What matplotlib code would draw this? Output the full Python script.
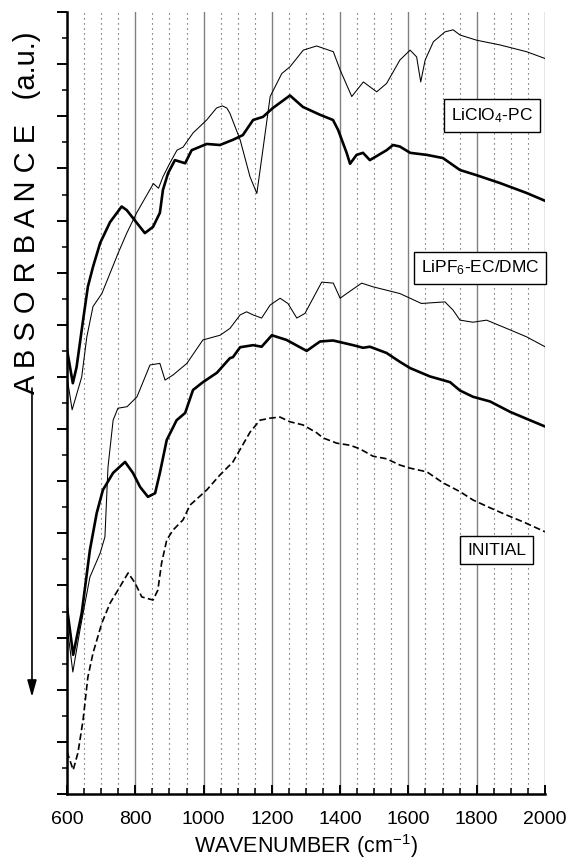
import matplotlib
matplotlib.use("Agg")
import matplotlib.pyplot as plt
from matplotlib.ticker import MultipleLocator, NullFormatter

plt.rcParams['font.family'] = ['Liberation Sans', 'DejaVu Sans']
plt.rcParams['mathtext.default'] = 'regular'

# LiClO4-PC, thin trace
clo4_thin_x = [600, 615, 643, 658, 676, 702, 726, 750, 775, 804, 853, 868, 881, 901, 922,
               940, 969, 1009, 1038, 1055, 1068, 1077, 1107, 1136, 1156, 1175, 1195, 1229,
               1253, 1292, 1331, 1380, 1400, 1434, 1468, 1507, 1536, 1575, 1605, 1624, 1636,
               1649, 1673, 1707, 1731, 1751, 1800, 1868, 1946, 2000]
clo4_thin_y = [8.00, 7.37, 8.00, 8.77, 9.35, 9.60, 9.99, 10.38, 10.76, 11.15, 11.71, 11.62,
               11.84, 12.10, 12.35, 12.41, 12.68, 12.93, 13.16, 13.20, 13.16, 13.06, 12.55,
               11.84, 11.52, 12.42, 13.38, 13.82, 13.95, 14.27, 14.35, 14.24, 13.89, 13.38,
               13.66, 13.47, 13.63, 14.08, 14.27, 14.14, 13.66, 14.08, 14.43, 14.62, 14.66,
               14.56, 14.46, 14.37, 14.24, 14.11]

# LiClO4-PC, thick trace
clo4_thick_x = [600, 617, 628, 647, 661, 676, 697, 726, 760, 775, 793, 828, 852, 872, 881,
                896, 916, 946, 965, 1009, 1048, 1086, 1115, 1145, 1174, 1203, 1253, 1291,
                1341, 1379, 1394, 1419, 1429, 1448, 1467, 1487, 1536, 1555, 1575, 1605, 1654,
                1701, 1751, 1800, 1868, 1946, 2000]
clo4_thick_y = [8.52, 7.88, 8.19, 9.09, 9.73, 10.11, 10.57, 10.97, 11.27, 11.20, 11.05,
                10.76, 10.88, 11.15, 11.59, 11.91, 12.16, 12.10, 12.35, 12.47, 12.45, 12.55,
                12.64, 12.93, 12.99, 13.16, 13.40, 13.18, 13.03, 12.93, 12.74, 12.30, 12.09,
                12.26, 12.30, 12.16, 12.35, 12.45, 12.42, 12.30, 12.26, 12.20, 11.97, 11.87,
                11.72, 11.53, 11.38]

# LiPF6-EC/DMC, thin trace
pf6_thin_x = [600, 617, 638, 667, 697, 711, 720, 735, 749, 776, 805, 843, 872, 887, 911,
              951, 998, 1048, 1077, 1107, 1126, 1145, 1170, 1195, 1224, 1247, 1273, 1297,
              1346, 1380, 1400, 1419, 1463, 1496, 1575, 1595, 1638, 1707, 1731, 1751, 1789,
              1829, 1888, 1946, 2000]
pf6_thin_y = [3.24, 2.34, 3.15, 4.16, 4.62, 4.93, 6.27, 7.17, 7.40, 7.43, 7.62, 8.23, 8.26,
              7.94, 8.04, 8.26, 8.71, 8.80, 8.93, 9.19, 9.25, 9.19, 9.13, 9.38, 9.51, 9.41,
              9.13, 9.22, 9.82, 9.80, 9.51, 9.60, 9.80, 9.73, 9.60, 9.54, 9.41, 9.44, 9.28,
              9.09, 9.05, 9.09, 8.93, 8.77, 8.58]

# LiPF6-EC/DMC, thick trace
pf6_thick_x = [600, 618, 643, 667, 687, 705, 735, 770, 793, 814, 837, 858, 872, 892, 921,
               946, 969, 998, 1039, 1077, 1086, 1107, 1145, 1170, 1200, 1243, 1302, 1341,
               1379, 1438, 1467, 1487, 1536, 1575, 1605, 1663, 1722, 1751, 1789, 1839, 1898,
               1956, 2000]
pf6_thick_y = [3.57, 2.67, 3.47, 4.68, 5.39, 5.83, 6.16, 6.37, 6.16, 5.89, 5.70, 5.77, 6.16,
               6.79, 7.17, 7.31, 7.75, 7.90, 8.08, 8.36, 8.38, 8.57, 8.61, 8.58, 8.80, 8.71,
               8.50, 8.68, 8.70, 8.61, 8.56, 8.58, 8.46, 8.29, 8.17, 8.01, 7.90, 7.74, 7.62,
               7.53, 7.33, 7.17, 7.05]

# initial spectrum (dashed)
init_x = [600, 618, 632, 647, 661, 676, 702, 726, 749, 779, 799, 819, 852, 866, 877, 892,
          910, 940, 960, 1009, 1048, 1086, 1136, 1165, 1195, 1224, 1253, 1291, 1331, 1350,
          1390, 1429, 1458, 1496, 1536, 1575, 1605, 1654, 1701, 1751, 1789, 1839, 1888,
          1936, 2000]
init_y = [0.81, 0.46, 0.79, 1.42, 2.24, 2.70, 3.28, 3.66, 3.91, 4.24, 4.05, 3.78, 3.72,
          3.91, 4.43, 4.87, 5.06, 5.26, 5.54, 5.83, 6.12, 6.37, 6.94, 7.17, 7.21, 7.23,
          7.14, 7.08, 6.93, 6.83, 6.73, 6.69, 6.62, 6.48, 6.43, 6.31, 6.25, 6.18, 5.97,
          5.80, 5.64, 5.49, 5.35, 5.22, 5.03]

labels = [r'LiClO$_4$-PC', r'LiPF$_6$-EC/DMC', 'INITIAL']
label_pos = [(1845, 13.02), (1810, 10.09), (1859, 4.68)]

fig = plt.figure(figsize=(5.69, 8.63), dpi=100)
ax = fig.add_axes([0.1178, 0.08, 0.84, 0.906])

ax.plot(clo4_thin_x, clo4_thin_y, color='black', lw=0.75)
ax.plot(clo4_thick_x, clo4_thick_y, color='black', lw=1.9)
ax.plot(pf6_thin_x, pf6_thin_y, color='black', lw=0.75)
ax.plot(pf6_thick_x, pf6_thick_y, color='black', lw=1.9)
ax.plot(init_x, init_y, color='black', lw=1.2, dashes=(4, 2))

ax.set_xlim(600, 2000)
ax.set_ylim(0, 15)

ax.xaxis.set_major_locator(MultipleLocator(200))
ax.xaxis.set_minor_locator(MultipleLocator(50))
ax.yaxis.set_major_locator(MultipleLocator(1))
ax.yaxis.set_minor_locator(MultipleLocator(0.5))
ax.yaxis.set_major_formatter(NullFormatter())

ax.set_axisbelow(True)
ax.grid(which='major', axis='x', color='#808080', lw=1.0, ls='-')
ax.grid(which='minor', axis='x', color='#444444', lw=0.8, ls=(0, (1, 3.5)))

for side in ['top', 'right']:
    ax.spines[side].set_visible(False)
for side in ['left', 'bottom']:
    ax.spines[side].set_linewidth(1.8)

ax.tick_params(axis='x', which='major', direction='in', length=6.5, width=1.4,
               labelsize=14, pad=12)
ax.tick_params(axis='x', which='minor', direction='in', length=4, width=1.1)
ax.tick_params(axis='y', which='major', direction='out', length=7, width=1.4)
ax.tick_params(axis='y', which='minor', direction='out', length=3.6, width=1.1)

for text, (x, y) in zip(labels, label_pos):
    ax.text(x, y, text, ha='center', va='center', fontsize=12.5,
            bbox=dict(boxstyle='square,pad=0.4', fc='white', ec='black', lw=1.0))

fig.text(0.538, 0.0116, r'WAVENUMBER (cm$^{-1}$)', ha='center', va='baseline', fontsize=15.5)
fig.text(0.048, 0.754, 'A B S O R B A N C E   (a.u.)', rotation=90,
         ha='center', va='center', fontsize=21)

ax.annotate('', xy=(0.0562, 0.1924), xytext=(0.0562, 0.5504),
            xycoords='figure fraction', textcoords='figure fraction',
            arrowprops=dict(arrowstyle='-|>,head_length=1.0,head_width=0.28',
                            lw=1.2, color='black', shrinkA=0, shrinkB=0),
            annotation_clip=False)

fig.savefig('out.png', dpi=100)
